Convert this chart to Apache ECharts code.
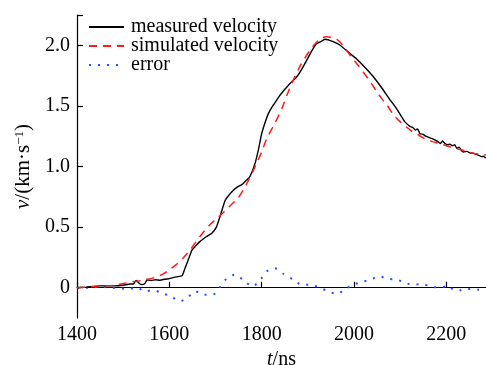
<!DOCTYPE html>
<html>
<head>
<meta charset="utf-8">
<script src="https://cdn.jsdelivr.net/npm/echarts@6/dist/echarts.min.js"></script>
<style>html,body{margin:0;padding:0;background:#fff}#c{width:486px;height:365px}</style>
</head>
<body>
<div id="c"></div>
<script>
var measuredT = [1400,1420,1450,1480,1500,1515,1522,1528,1535,1541,1547,1552,1560,1570,1580,1590,1600,1610,1621,1628,1634,1642,1649,1656,1666,1680,1692,1702,1710,1721,1735,1747,1757,1768,1775,1786,1793,1800,1808,1815,1824,1833,1840,1858,1876,1888,1898,1908,1918,1928,1937,1955,1970,1992,2005,2013,2028,2042,2060,2078,2090,2100,2110,2118,2122,2128,2133,2138,2143,2150,2155,2162,2169,2175,2180,2187,2192,2197,2203,2208,2213,2218,2223,2228,2233,2237,2245,2252,2258,2265,2272,2277,2280,2286];
var measuredV = [0.00,0.005,0.015,0.015,0.02,0.03,0.03,0.06,0.035,0.025,0.035,0.065,0.06,0.065,0.062,0.07,0.075,0.085,0.093,0.10,0.16,0.24,0.31,0.34,0.38,0.42,0.45,0.50,0.59,0.72,0.79,0.83,0.85,0.89,0.92,1.03,1.14,1.27,1.37,1.44,1.50,1.55,1.59,1.67,1.74,1.81,1.88,1.95,2.01,2.03,2.05,2.03,2.00,1.93,1.89,1.86,1.80,1.74,1.65,1.55,1.49,1.43,1.37,1.34,1.33,1.32,1.30,1.31,1.27,1.265,1.25,1.24,1.23,1.22,1.21,1.19,1.21,1.19,1.18,1.185,1.17,1.18,1.15,1.16,1.13,1.12,1.125,1.11,1.11,1.10,1.09,1.08,1.085,1.07];

var simulatedT = [1400,1440,1480,1508,1540,1569,1585,1601,1615,1631,1645,1656,1672,1688,1703,1717,1733,1749,1768,1786,1800,1811,1829,1844,1856,1868,1885,1905,1920,1930,1941,1955,1966,1980,1995,2008,2020,2035,2049,2060,2071,2085,2100,2122,2140,2158,2175,2193,2210,2230,2258,2286];
var simulatedV = [0.00,0.01,0.02,0.04,0.06,0.085,0.11,0.15,0.19,0.25,0.31,0.37,0.45,0.52,0.57,0.62,0.68,0.74,0.86,1.00,1.12,1.23,1.36,1.48,1.60,1.71,1.84,1.96,2.03,2.06,2.07,2.06,2.04,1.98,1.90,1.84,1.78,1.70,1.62,1.56,1.51,1.43,1.37,1.30,1.26,1.22,1.20,1.18,1.16,1.14,1.11,1.095];

var errorT = [1400,1420,1440,1458,1475,1493,1511,1530,1547,1565,1583,1603,1623,1639,1656,1675,1694,1710,1724,1742,1760,1780,1797,1811,1829,1847,1869,1887,1905,1925,1945,1963,1981,1999,2017,2035,2055,2072,2093,2111,2129,2147,2165,2179,2192,2205,2215,2230,2240,2251,2270,2284];
var errorV = [0.00,0.00,0.005,0.005,0.00,-0.005,-0.01,0.00,-0.03,-0.02,-0.044,-0.07,-0.11,-0.085,-0.03,-0.058,-0.058,0.006,0.074,0.107,0.066,0.011,0.066,0.134,0.16,0.115,0.066,0.025,0.025,0.00,-0.03,-0.052,-0.01,0.025,0.047,0.066,0.093,0.074,0.066,0.039,0.025,0.03,0.011,0.003,0.005,0.016,-0.016,-0.022,-0.011,-0.011,-0.016,-0.022];

var xTicks = [1400,1600,1800,2000,2200];
var yTicks = [0,0.5,1.0,1.5,2.0];

function pairs(t, v){ return t.map(function(x,i){ return [x, v[i]]; }); }

var FONT = '"Liberation Serif", "Times New Roman", serif';
var chart = echarts.init(document.getElementById('c'), null, {renderer:'canvas'});
chart.setOption({
  animation: false,
  backgroundColor: '#fff',
  textStyle: {fontFamily: FONT},
  grid: {left: 77, right: 0, top: 15, bottom: 47, outerBoundsMode: 'none', containLabel: false},
  legend: {
    orient: 'vertical', left: 88, top: 17, padding: 0,
    itemWidth: 35, itemHeight: 14, itemGap: -1,
    itemStyle: {opacity: 0},
    textStyle: {fontFamily: FONT, fontSize: 20, lineHeight: 18.5, color: '#000', padding: [0,0,0,2]},
    data: ['measured velocity','simulated velocity','error']
  },
  xAxis: {
    type: 'value', min: 1400, max: 2286,
    name: '{i|t}/ns', nameLocation: 'middle', nameGap: 31,
    nameTextStyle: {fontFamily: FONT, fontSize: 20, color: '#000',
      rich: {i: {fontFamily: FONT, fontSize: 20, fontStyle: 'italic', color:'#000'}}},
    axisLine: {show: true, lineStyle: {color: '#000', width: 1.2}},
    axisTick: {show: true, inside: true, length: 6, customValues: xTicks, lineStyle:{color:'#000', width:1.2}},
    axisLabel: {customValues: xTicks, fontFamily: FONT, fontSize: 20, color: '#000', margin: 7,
      formatter: function(v){ return String(v); }},
    splitLine: {show: false}
  },
  yAxis: {
    type: 'value', min: -0.25, max: 2.25,
    name: '{i|v}/(km·s{s|−1})', nameLocation: 'middle', nameGap: 40, nameRotate: 90,
    nameTextStyle: {fontFamily: FONT, fontSize: 21, color: '#000',
      rich: {i: {fontFamily: FONT, fontSize: 21, fontStyle: 'italic', color:'#000'},
             s: {fontFamily: FONT, fontSize: 13, color:'#000', verticalAlign:'top', padding:[0,0,8,0]}}},
    axisLine: {show: true, lineStyle: {color: '#000', width: 1.2}},
    axisTick: {show: true, inside: true, length: 6, customValues: [0,0.5,1,1.5,2,2.25], lineStyle:{color:'#000', width:1.2}},
    axisLabel: {customValues: yTicks, fontFamily: FONT, fontSize: 20, color: '#000', margin: 7,
      formatter: function(v){ return v === 0 ? '0' : v.toFixed(1); }},
    splitLine: {show: false}
  },
  series: [
    {name: 'measured velocity', type: 'line', data: pairs(measuredT, measuredV), symbol: 'none', smooth: 0.15,
     lineStyle: {color: '#000', width: 1.4}, itemStyle: {color: '#000'}, z: 3},
    {name: 'simulated velocity', type: 'line', data: pairs(simulatedT, simulatedV), symbol: 'none', smooth: 0.3,
     lineStyle: {color: '#ff1a1a', width: 1.5, type: [8,6]}, itemStyle: {color: '#ff1a1a'}, z: 4},
    {name: 'error', type: 'line', data: pairs(errorT, errorV), symbol: 'none', smooth: 0.3,
     lineStyle: {color: '#2a4dff', width: 2, type: [2,7]}, itemStyle: {color: '#2a4dff'}, z: 2}
  ]
});
</script>
</body>
</html>
